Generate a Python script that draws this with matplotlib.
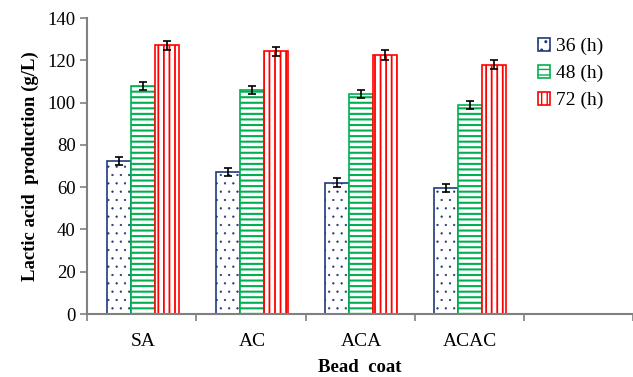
import numpy as np
import matplotlib
matplotlib.use('Agg')
import matplotlib.pyplot as plt

plt.rcParams['font.family'] = ['Liberation Serif', 'DejaVu Serif']

coats = ['SA', 'AC', 'ACA', 'ACAC']
hours = ['36 (h)', '48 (h)', '72 (h)']
h36 = [72.3, 67.3, 62.2, 59.5]
h48 = [108.0, 106.0, 104.2, 99.0]
h72 = [127.2, 124.3, 122.6, 118.0]
err36 = [2.0, 2.0, 2.0, 2.0]
err48 = [2.0, 2.0, 2.0, 2.0]
err72 = [2.2, 2.0, 2.2, 2.0]

edge = ['#1f3a7a', '#00b050', '#ff0000']
hatch = ['..', '---', '|||']
hatch_lw = [0.4, 1.5, 1.3]

fig = plt.figure(figsize=(6.33, 3.77), dpi=100)
ax = fig.add_axes([0.138, 0.167, 0.862, 0.785])

x = np.arange(len(coats)) + 0.51
w = 0.22
for k, (vals, errs) in enumerate(zip([h36, h48, h72], [err36, err48, err72])):
    with plt.rc_context({'hatch.linewidth': hatch_lw[k]}):
        ax.bar(x + (k - 1) * w, vals, w, color='white', edgecolor=edge[k],
               hatch=hatch[k], linewidth=1.2, label=hours[k], zorder=2)
    ax.errorbar(x + (k - 1) * w, vals, yerr=errs, fmt='none', ecolor='black',
                elinewidth=1.2, capsize=3, capthick=1.2, zorder=3)

ax.set_xlim(0, 5)
ax.set_ylim(0, 140)
ax.set_yticks(range(0, 141, 20))
ax.set_xticks(range(0, 6))
ax.set_xticklabels([])
ax.set_xticks(x, minor=True)
ax.set_xticklabels(coats, minor=True)
ax.tick_params(axis='x', which='minor', length=0, pad=14, labelsize=14)
ax.tick_params(axis='x', which='major', length=5, color='#808080', width=1.2)
ax.tick_params(axis='y', length=5, color='#808080', width=1.2, labelsize=13.5)

for s in ['top', 'right']:
    ax.spines[s].set_visible(False)
for s in ['left', 'bottom']:
    ax.spines[s].set_color('#808080')
    ax.spines[s].set_linewidth(1.5)

ax.set_xlabel('Bead  coat', fontsize=13.5, fontweight='bold', labelpad=6)
ax.set_ylabel('Lactic acid  production (g/L)', fontsize=13.5, fontweight='bold', labelpad=6)

ax.legend(loc='upper left', bbox_to_anchor=(538 / 633, 1 - 38 / 377),
          bbox_transform=fig.transFigure, frameon=False, fontsize=14,
          handlelength=0.6, handleheight=0.6, handletextpad=0.3, labelspacing=0.5,
          borderaxespad=0, borderpad=0)

fig.savefig('out.png', dpi=100)
